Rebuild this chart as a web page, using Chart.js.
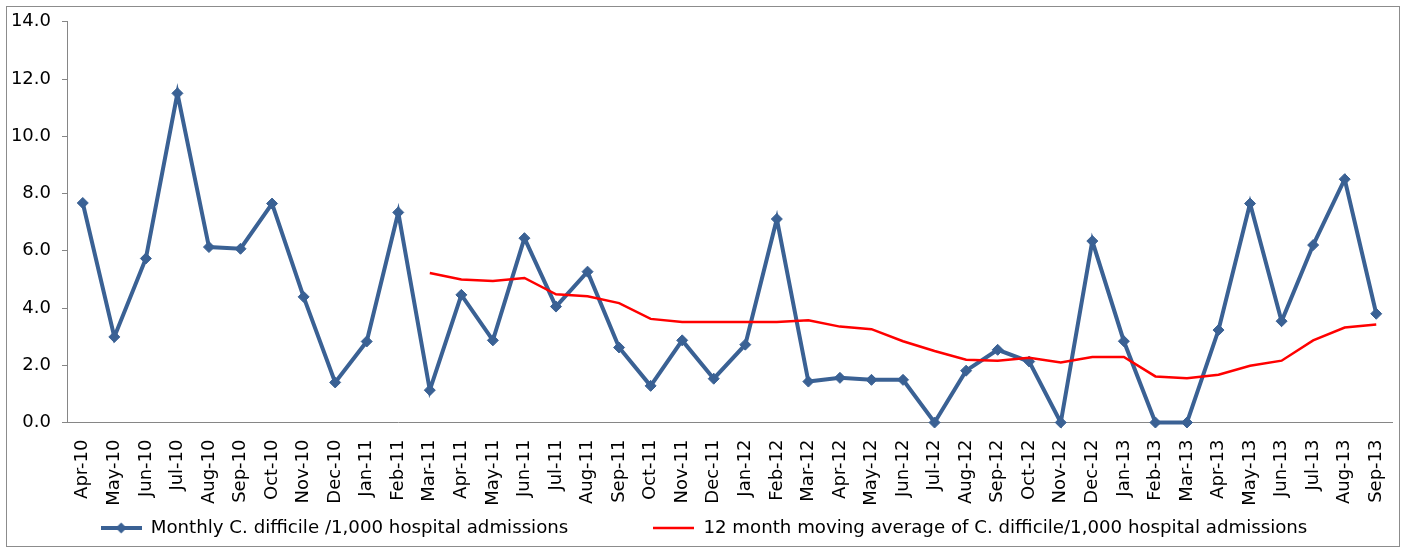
<!DOCTYPE html>
<html>
<head>
<meta charset="utf-8">
<script src="https://cdn.jsdelivr.net/npm/chart.js@4"></script>
<style>
  html, body { margin: 0; padding: 0; background: #fff; width: 1407px; height: 549px; overflow: hidden; }
  #frame { position: absolute; left: 6px; top: 6px; width: 1392px; height: 539px; border: 1px solid #8c8c8c; pointer-events: none; }
  #c { position: absolute; left: 0; top: 0; }
</style>
</head>
<body>
<canvas id="c" width="1407" height="549"></canvas>
<div id="frame"></div>
<script>
const months = ['Apr-10','May-10','Jun-10','Jul-10','Aug-10','Sep-10','Oct-10','Nov-10','Dec-10','Jan-11','Feb-11','Mar-11',
  'Apr-11','May-11','Jun-11','Jul-11','Aug-11','Sep-11','Oct-11','Nov-11','Dec-11','Jan-12','Feb-12','Mar-12',
  'Apr-12','May-12','Jun-12','Jul-12','Aug-12','Sep-12','Oct-12','Nov-12','Dec-12','Jan-13','Feb-13','Mar-13',
  'Apr-13','May-13','Jun-13','Jul-13','Aug-13','Sep-13'];

const monthlyRate = [7.67, 2.99, 5.73, 11.5, 6.13, 6.07, 7.65, 4.39, 1.40, 2.83, 7.34, 1.13,
  4.46, 2.87, 6.44, 4.05, 5.27, 2.62, 1.28, 2.87, 1.53, 2.72, 7.11, 1.43,
  1.56, 1.49, 1.49, 0.00, 1.81, 2.54, 2.13, 0.00, 6.34, 2.84, 0.00, 0.00,
  3.23, 7.65, 3.54, 6.20, 8.50, 3.80];

const movingAverage = [null, null, null, null, null, null, null, null, null, null, null, 5.22,
  5.00, 4.94, 5.05, 4.48, 4.41, 4.17, 3.62, 3.51, 3.51, 3.51, 3.51, 3.57,
  3.35, 3.26, 2.84, 2.50, 2.19, 2.16, 2.26, 2.10, 2.29, 2.29, 1.61, 1.55,
  1.67, 1.98, 2.16, 2.87, 3.32, 3.42];

const seriesNames = ['Monthly C. difficile /1,000 hospital admissions',
  '12 month moving average of C. difficile/1,000 hospital admissions'];

const yTicks = { min: 0, max: 14, step: 2 };

const BLUE = '#3a6194';
const RED = '#ff0000';
const AXIS = '#868686';
const FONT = 'DejaVu Sans';
const LEGEND_SIZE = 18.2;

function swatch(color, lw, diamond) {
  const cv = document.createElement('canvas');
  cv.width = 41; cv.height = 12;
  const g = cv.getContext('2d');
  g.strokeStyle = color; g.lineWidth = lw;
  g.beginPath(); g.moveTo(0, 6); g.lineTo(41, 6); g.stroke();
  if (diamond) {
    g.fillStyle = color;
    g.beginPath(); g.moveTo(20.5, 0.5); g.lineTo(26, 6); g.lineTo(20.5, 11.5); g.lineTo(15, 6); g.closePath(); g.fill();
  }
  return cv;
}
const swatches = [swatch(BLUE, 4, true), swatch(RED, 2.5, false)];

// Place the legend row lower than the space reserved for it (text centre ~y=528)
const legendPlacer = {
  id: 'legendPlacer',
  afterLayout(chart) {
    const lg = chart.legend;
    if (!lg) return;
    const pad = lg.options.labels.padding;
    const newTop = 528 - pad - LEGEND_SIZE / 2;
    lg.top = newTop;
    lg.height = lg.bottom - newTop;
    lg.left = 0;
    lg.right = 1408;
    lg.width = lg.right - lg.left;
  }
};

new Chart(document.getElementById('c'), {
  type: 'line',
  data: {
    labels: months,
    datasets: [
      {
        label: seriesNames[0],
        data: monthlyRate,
        borderColor: BLUE,
        backgroundColor: BLUE,
        borderWidth: 4,
        pointStyle: 'rectRot',
        pointRadius: 5.5,
        pointBorderWidth: 1,
        pointBackgroundColor: BLUE,
        pointBorderColor: BLUE,
        tension: 0,
        clip: false,
        order: 1
      },
      {
        label: seriesNames[1],
        data: movingAverage,
        borderColor: RED,
        backgroundColor: RED,
        borderWidth: 2.5,
        pointRadius: 0,
        tension: 0,
        clip: false,
        order: 0
      }
    ]
  },
  plugins: [legendPlacer],
  options: {
    responsive: false,
    animation: false,
    layout: { padding: { top: 20, right: 13, bottom: 2, left: 0 } },
    plugins: {
      tooltip: { enabled: false },
      legend: {
        position: 'bottom',
        maxHeight: 40,
        labels: {
          usePointStyle: true,
          pointStyleWidth: 41,
          padding: 85,
          color: '#000',
          font: { family: FONT, size: LEGEND_SIZE },
          generateLabels(chart) {
            const items = Chart.defaults.plugins.legend.labels.generateLabels(chart);
            items.sort((a, b) => a.datasetIndex - b.datasetIndex);
            items.forEach(it => { it.pointStyle = swatches[it.datasetIndex]; });
            return items;
          }
        }
      }
    },
    scales: {
      x: {
        offset: true,
        grid: { display: false },
        border: { display: true, color: AXIS, width: 1 },
        ticks: {
          autoSkip: false,
          minRotation: 90,
          maxRotation: 90,
          padding: 9,
          color: '#000',
          font: { family: FONT, size: 18 }
        },
        afterFit(s) { s.height = 84.5; }
      },
      y: {
        min: yTicks.min,
        max: yTicks.max,
        grid: { display: true, drawOnChartArea: false, drawTicks: true, tickLength: 5, color: AXIS },
        border: { display: true, color: AXIS, width: 1 },
        ticks: {
          stepSize: yTicks.step,
          padding: 11,
          color: '#000',
          font: { family: FONT, size: 18 },
          callback: v => Number(v).toFixed(1)
        },
        afterFit(s) { s.width = 67; }
      }
    }
  }
});
</script>
</body>
</html>
